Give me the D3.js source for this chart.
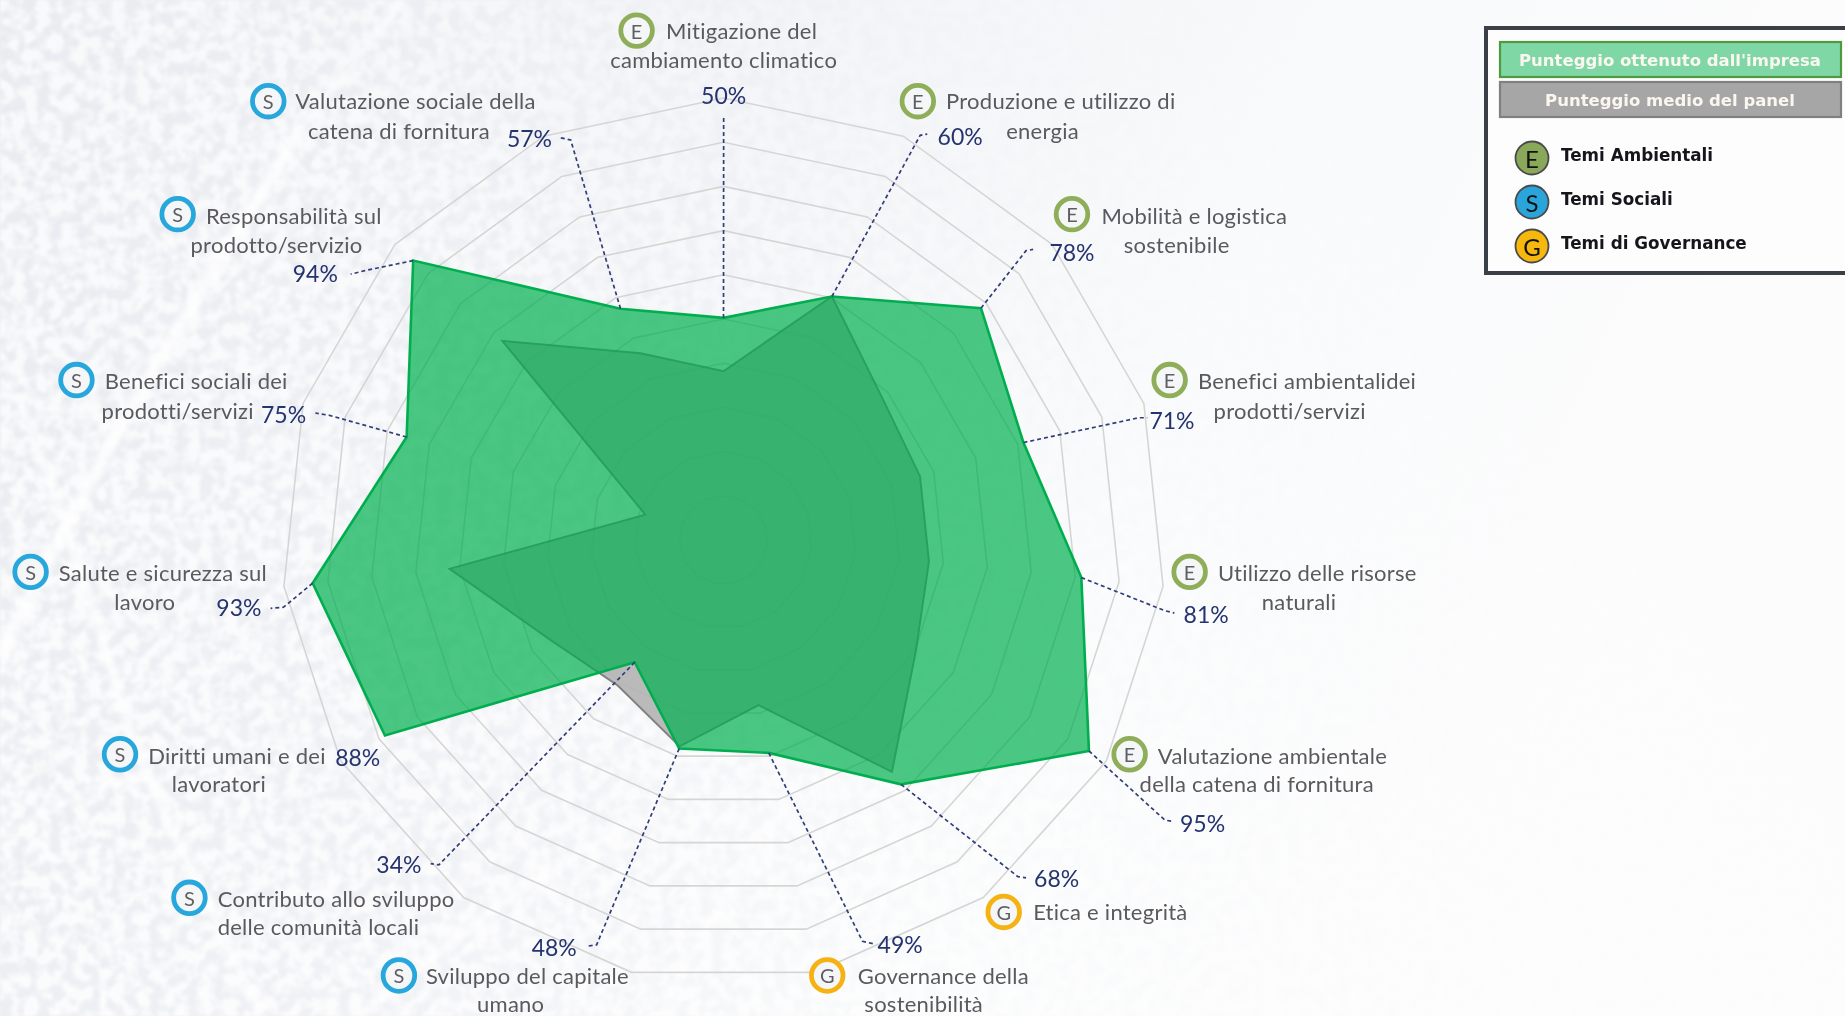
<!DOCTYPE html>
<html lang="it"><head><meta charset="utf-8">
<script src="https://cdn.jsdelivr.net/npm/d3@7"></script>
<style>
html,body{margin:0;padding:0;background:#f8f9fb;overflow:hidden}
svg{display:block;filter:blur(0.5px)}
text{font-family:Lato,"Open Sans",sans-serif}
.lab{fill:#5a5a5e;font-size:22px;letter-spacing:.25px}
.pct{fill:#25336f;font-size:23px}
.ic{font-size:20px;fill:#5f5f63}
.leg{font-family:"DejaVu Sans",sans-serif;font-weight:700}
</style></head><body>
<script>
// ---------- data ----------
const categories=["Mitigazione del cambiamento climatico","Produzione e utilizzo di energia","Mobilità e logistica sostenibile","Benefici ambientali dei prodotti/servizi","Utilizzo delle risorse naturali","Valutazione ambientale della catena di fornitura","Etica e integrità","Governance della sostenibilità","Sviluppo del capitale umano","Contributo allo sviluppo delle comunità locali","Diritti umani e dei lavoratori","Salute e sicurezza sul lavoro","Benefici sociali dei prodotti/servizi","Responsabilità sul prodotto/servizio","Valutazione sociale della catena di fornitura"];
const companyScores=[50,60,78,71,81,95,68,49,48,34,88,93,75,94,57];
const panelScores=[38,60,48,46.5,46.5,50,64.5,38,47.5,40.5,45,62,18.5,67,46];
const themes=["E","E","E","E","E","E","G","G","S","S","S","S","S","S","S"];
const labelLines=[["Mitigazione del","cambiamento climatico"],["Produzione e utilizzo di","energia"],["Mobilità e logistica","sostenibile"],["Benefici ambientalidei","prodotti/servizi"],["Utilizzo delle risorse","naturali"],["Valutazione ambientale","della catena di fornitura"],["Etica e integrità"],["Governance della","sostenibilità"],["Sviluppo del capitale","umano"],["Contributo allo sviluppo","delle comunità locali"],["Diritti umani e dei","lavoratori"],["Salute e sicurezza sul","lavoro"],["Benefici sociali dei","prodotti/servizi"],["Responsabilità sul","prodotto/servizio"],["Valutazione sociale della","catena di fornitura"]];
const ringTicks=[10,20,30,40,50,60,70,80,90,100];
const legendSeries=["Punteggio ottenuto dall'impresa","Punteggio medio del panel"];
const legendThemes=[["E","Temi Ambientali"],["S","Temi Sociali"],["G","Temi di Governance"]];

// ---------- layout (page pixels) ----------
const W=1845,H=1016,cx=723.5,cy=540,R=442,k=1.1767;
const themeColor={E:"#8fae5a",S:"#27a7dc",G:"#f5b212"};
const legendFill={E:"#8aa85a",S:"#2aa5dc",G:"#f6b80c"};
// icon centre, first-line start, second-line anchor (reference px at 1568 width)
const labelPos=[[541,26,566,33,615,58,"middle"],[780,86,804,93,886,118,"middle"],[911,182,936,190,1000,215,"middle"],[994,323,1018,331,1096,356,"middle"],[1011,486,1035,494,1104,518,"middle"],[960,641,984,649,1068,673,"middle"],[853,775,878,782,0,0,"middle"],[703,829,729,836,785,860,"middle"],[339,829,362,836,434,860,"middle"],[161,763,185,771,185,795,"start"],[102,641,126,649,186,673,"middle"],[26,486,50,494,123,518,"middle"],[65,323,89,331,151,356,"middle"],[151,182,175,190,235,215,"middle"],[228,86,251,93,339,118,"middle"]];
const pctPos=[[615,81],[816,116],[911,214],[996,357],[1025,522],[1022,699],[898,746],[765,802],[471,805],[339,734],[304,643],[203,516],[241,352],[268,232],[450,117]];
const leaderPos=[[[615,100]],[[782,115],[788,114]],[[872,213],[878,212]],[[968,355],[975,355]],[[990,519],[998,521]],[[990,697],[997,698]],[[865,745],[872,746]],[[733,800],[742,802]],[[507,803],[500,804]],[[373,735],[366,734]],[],[[241,516],[230,517]],[[280,353],[268,351]],[[310,230],[298,233]],[[485,119],[476,117]]];

const svg=d3.select("body").append("svg").attr("width",W).attr("height",H).attr("viewBox",[0,0,W,H]);
const defs=svg.append("defs");

// ---------- background ----------
const bg=defs.append("linearGradient").attr("id","bg").attr("x1",0).attr("x2",1).attr("y1",0).attr("y2",0.25);
[[0,"#e9ebf0"],[0.4,"#f0f1f5"],[0.7,"#f9fafb"],[1,"#fcfcfd"]].forEach(s=>bg.append("stop").attr("offset",s[0]).attr("stop-color",s[1]));
svg.append("rect").attr("width",W).attr("height",H).attr("fill","url(#bg)");
const tex=defs.append("filter").attr("id","tex").attr("x",0).attr("y",0).attr("width","100%").attr("height","100%");
tex.append("feTurbulence").attr("type","fractalNoise").attr("baseFrequency",0.08).attr("numOctaves",2).attr("seed",4);
tex.append("feColorMatrix").attr("values","0 0 0 0 1  0 0 0 0 1  0 0 0 0 1  3.6 0 0 0 -1.25");
tex.append("feGaussianBlur").attr("stdDeviation",0.8);
const mg=defs.append("linearGradient").attr("id","mg").attr("gradientUnits","userSpaceOnUse").attr("x1",100).attr("y1",1000).attr("x2",1300).attr("y2",100);
[[0,1],[0.45,.85],[0.8,.3],[1,.05]].forEach(s=>mg.append("stop").attr("offset",s[0]).attr("stop-color","#fff").attr("stop-opacity",s[1]));
const mask=defs.append("mask").attr("id","tm").attr("maskUnits","userSpaceOnUse").attr("x",0).attr("y",0).attr("width",W).attr("height",H);
mask.append("rect").attr("width",W).attr("height",H).attr("fill","url(#mg)");
svg.append("rect").attr("width",W).attr("height",H).attr("filter","url(#tex)").attr("mask","url(#tm)").attr("opacity",.8);
defs.append("filter").attr("id","soft").append("feGaussianBlur").attr("stdDeviation",3);
const veins=[
 [13,"M0 655C35 585 70 520 118 430C170 340 235 235 300 130"],
 [8,"M18 395C45 470 70 530 118 690C150 800 200 880 262 1016"],
 [7,"M640 818C570 860 500 900 460 935C420 970 385 990 360 1016"],
 [4,"M118 430C80 410 45 400 0 395"],
 [4,"M0 840C60 800 100 780 150 780"],
 [4,"M262 640C210 680 160 700 120 700"],
 [5,"M800 790C760 850 700 930 660 1016"],
 [5,"M300 130C330 90 370 50 400 0"]];
svg.append("g").attr("filter","url(#soft)").attr("fill","none").attr("stroke","#fff").attr("stroke-opacity",.75)
 .selectAll("path").data(veins).join("path").attr("stroke-width",d=>d[0]).attr("d",d=>d[1]);

// ---------- radar ----------
const root=svg.append("g");
const ang=d3.scaleLinear().domain([0,categories.length]).range([0,2*Math.PI]);
const ringRad=d3.scaleLinear().domain([0,100]).range([0,R]);
const rad=d3.scaleLinear().domain([0,100]).range([0,R*1.005]);
const ring=d3.lineRadial().angle((d,i)=>ang(i)).radius(d=>ringRad(d)).curve(d3.curveLinearClosed);
const poly=d3.lineRadial().angle((d,i)=>ang(i)).radius(d=>rad(d)).curve(d3.curveLinearClosed);
const plot=root.append("g").attr("transform",`translate(${cx},${cy})`);
plot.selectAll(".ring").data(ringTicks).join("path").attr("class","ring")
 .attr("d",t=>ring(categories.map(()=>t))).attr("fill","none").attr("stroke","#dadada").attr("stroke-width",1.6);
plot.append("path").attr("d",poly(panelScores)).attr("fill","#bababa").attr("stroke","#808080").attr("stroke-width",2);
plot.append("path").attr("d",poly(companyScores)).attr("fill","#00b050").attr("fill-opacity",.7).attr("stroke","#00ae4f").attr("stroke-width",2.6).attr("stroke-linejoin","miter");
plot.selectAll(".ringTop").data(ringTicks).join("path").attr("class","ringTop")
 .attr("d",t=>ring(categories.map(()=>t))).attr("fill","none").attr("stroke","#000").attr("stroke-opacity",.018).attr("stroke-width",1.6);

// leaders
const vertex=(v,i)=>{const a=ang(i)-Math.PI/2,r=rad(v);return [cx+r*Math.cos(a),cy+r*Math.sin(a)]};
root.append("g").selectAll("path").data(categories).join("path")
 .attr("d",(c,i)=>leaderPos[i].length?d3.line()([vertex(companyScores[i],i),...leaderPos[i].map(p=>[p[0]*k,p[1]*k])]):null)
 .attr("fill","none").attr("stroke","#333e78").attr("stroke-width",1.7).attr("stroke-dasharray","4 3");

// percentage labels
root.append("g").selectAll("text").data(companyScores).join("text").attr("class","pct")
 .attr("x",(d,i)=>pctPos[i][0]*k).attr("y",(d,i)=>pctPos[i][1]*k).attr("text-anchor","middle").attr("dominant-baseline","central").text(d=>d+"%");

// category labels
const lg=root.append("g").selectAll("g").data(categories).join("g");
lg.append("circle").attr("cx",(d,i)=>labelPos[i][0]*k).attr("cy",(d,i)=>labelPos[i][1]*k).attr("r",15.8)
 .attr("fill","#f5f6f8").attr("stroke",(d,i)=>themeColor[themes[i]]).attr("stroke-width",4.8);
lg.append("text").attr("class","ic").attr("x",(d,i)=>labelPos[i][0]*k).attr("y",(d,i)=>labelPos[i][1]*k).attr("text-anchor","middle").attr("dominant-baseline","central").text((d,i)=>themes[i]);
lg.append("text").attr("class","lab").attr("x",(d,i)=>labelPos[i][2]*k).attr("y",(d,i)=>labelPos[i][3]*k).text((d,i)=>labelLines[i][0]);
lg.filter((d,i)=>labelLines[i].length>1).append("text").attr("class","lab")
 .each(function(d){const i=categories.indexOf(d);d3.select(this).attr("x",labelPos[i][4]*k).attr("y",labelPos[i][5]*k).attr("text-anchor",labelPos[i][6]).text(labelLines[i][1]);});

// ---------- legend ----------
const leg=svg.append("g");
leg.append("rect").attr("x",1486).attr("y",28).attr("width",380).attr("height",245).attr("fill","#fdfdfe").attr("stroke","#3b4048").attr("stroke-width",4);
const bars=[{y:42,f:"#7fd7a5",s:"#4f9a3e"},{y:82,f:"#a6a6a6",s:"#808080"}];
leg.selectAll(".bar").data(legendSeries).join("rect").attr("class","bar").attr("x",1500).attr("width",341).attr("y",(d,i)=>bars[i].y).attr("height",35)
 .attr("fill",(d,i)=>bars[i].f).attr("stroke",(d,i)=>bars[i].s).attr("stroke-width",2.2);
leg.selectAll(".bt").data(legendSeries).join("text").attr("class","bt leg").attr("x",1670).attr("y",(d,i)=>bars[i].y+18).attr("text-anchor","middle").attr("dominant-baseline","central")
 .attr("fill","#fbf7f0").attr("font-size",16.5).text(d=>d);
const ly=[158,202,246];
leg.selectAll(".lc").data(legendThemes).join("circle").attr("class","lc").attr("cx",1532).attr("cy",(d,i)=>ly[i]).attr("r",16.5)
 .attr("fill",d=>legendFill[d[0]]).attr("stroke","#4a4a4a").attr("stroke-width",1.8);
leg.selectAll(".ll").data(legendThemes).join("text").attr("class","ll").attr("x",1532).attr("y",(d,i)=>ly[i]).attr("text-anchor","middle").attr("dominant-baseline","central")
 .attr("font-size",24).attr("fill","#111").text(d=>d[0]);
leg.selectAll(".lt").data(legendThemes).join("text").attr("class","lt leg").attr("x",1561).attr("y",(d,i)=>ly[i]-3).attr("dominant-baseline","central")
 .attr("font-size",16.8).attr("fill","#15151c").text(d=>d[1]);
</script></body></html>
